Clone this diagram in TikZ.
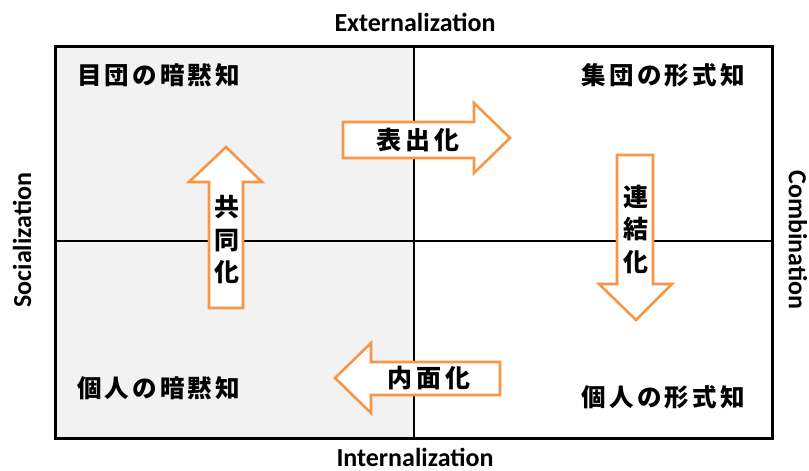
\documentclass[tikz,border=0pt]{standalone}
\usepackage{fontspec}
\setmainfont{Carlito}
\newfontfamily\jpfont{Noto Sans CJK JP}[LetterSpace=13]
\newfontfamily\jparrow{Noto Sans CJK JP}[LetterSpace=16]
\newfontfamily\jpvert{Noto Sans CJK JP}
\definecolor{arroworange}{HTML}{F79646}
\definecolor{lightgray}{HTML}{F2F2F2}
\tikzset{
  quadlabel/.style={font=\jpfont\bfseries\fontsize{24.5}{28}\selectfont, inner sep=0pt},
  arrowlabel/.style={font=\jparrow\bfseries\fontsize{25}{30}\selectfont, inner sep=0pt},
  vertlabel/.style={font=\jpvert\bfseries\fontsize{25}{32.5}\selectfont, align=center, inner sep=0pt},
  axislabel/.style={font=\bfseries\fontsize{26}{30}\selectfont, inner sep=0pt},
  bigarrow/.style={draw=arroworange, fill=white, line width=2.6pt, line join=miter},
}
\begin{document}
\begin{tikzpicture}[x=1pt,y=-1pt]
\useasboundingbox (0,0) rectangle (809,471);
% quadrant background
\fill[lightgray] (55,46) rectangle (414,438);
% axes
\draw[line width=2.3pt] (414,46) -- (414,438);
\draw[line width=2.3pt] (55,241) -- (772,241);
\draw[line width=3pt] (55,46) rectangle (772,438);

% arrows
\draw[bigarrow] (343,122) -- (474,122) -- (474,103) -- (510,138) -- (474,173) -- (474,158) -- (343,158) -- cycle;
\draw[bigarrow] (209,308) -- (209,182) -- (189,182) -- (226,147) -- (262,182) -- (243,182) -- (243,308) -- cycle;
\draw[bigarrow] (617,155) -- (653,155) -- (653,284) -- (672,284) -- (636,320) -- (599,284) -- (617,284) -- cycle;
\draw[bigarrow] (500,362) -- (371,362) -- (371,343) -- (335,378) -- (371,413) -- (371,395) -- (500,395) -- cycle;

% arrow labels
\node[arrowlabel] (ext) at (418,140) {表出化};
\node[arrowlabel] (int) at (429,378) {内面化};
\node[vertlabel] (soc) at (227,240) {共\\同\\化};
\node[vertlabel] (comb) at (636,229) {連\\結\\化};

% quadrant labels
\node[quadlabel, anchor=west] (q1) at (77,75) {目団の暗黙知};
\node[quadlabel, anchor=east] (q2) at (745,75) {集団の形式知};
\node[quadlabel, anchor=west] (q3) at (77,388) {個人の暗黙知};
\node[quadlabel, anchor=east] (q4) at (745,397) {個人の形式知};

% axis labels
\node[axislabel] (top) at (415,22) {Externalization};
\node[axislabel] (bottom) at (415,457) {Internalization};
\node[axislabel, rotate=90] (left) at (22,240) {Socialization};
\node[axislabel, rotate=-90] (right) at (798,240) {Combination};
\end{tikzpicture}
\end{document}
